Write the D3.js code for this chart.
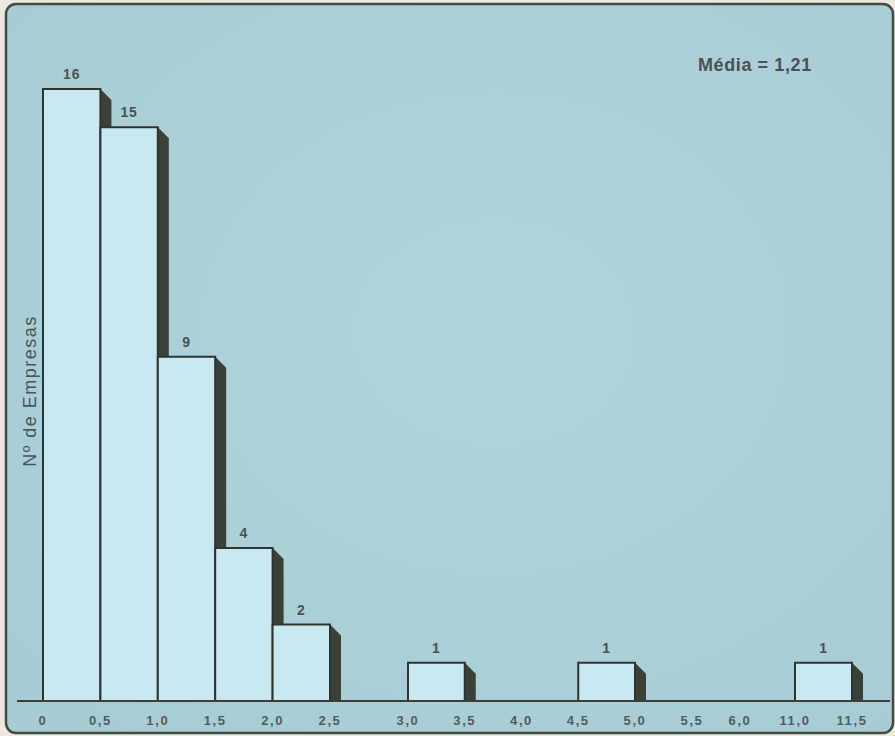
<!DOCTYPE html>
<html>
<head>
<meta charset="utf-8">
<script src="https://cdn.jsdelivr.net/npm/d3@7/dist/d3.min.js"></script>
<style>
  html, body { margin: 0; padding: 0; background: #ebe8de; }
  svg { display: block; }
  text { font-family: "Liberation Sans", Arial, Helvetica, sans-serif; }
</style>
</head>
<body>
<svg id="chart" width="895" height="736"></svg>
<script>
// Distribution of companies by ratio class (class width 0,5)
const binStarts = [0, 0.5, 1.0, 1.5, 2.0, 3.0, 4.5, 11.0];
const counts    = [16, 15, 9, 4, 2, 1, 1, 1];
const binWidth  = 0.5;
const tickValues = [0, 0.5, 1.0, 1.5, 2.0, 2.5, 3.0, 3.5, 4.0, 4.5, 5.0, 5.5, 6.0, 11.0, 11.5];
const yLabel = "Nº de Empresas";
const meanLabel = "Média = 1,21";

const W = 895, H = 736;
const svg = d3.select("#chart");

// panel
const defs = svg.append("defs");
const grad = defs.append("radialGradient").attr("id", "bg")
  .attr("cx", "55%").attr("cy", "45%").attr("r", "70%");
grad.append("stop").attr("offset", "0%").attr("stop-color", "#b2d5dc");
grad.append("stop").attr("offset", "100%").attr("stop-color", "#a8ccd3");

svg.append("rect")
  .attr("x", 6).attr("y", 4).attr("width", 887).attr("height", 729)
  .attr("rx", 10).attr("ry", 10)
  .attr("fill", "url(#bg)")
  .attr("stroke", "#454a44").attr("stroke-width", 2.5);

// piecewise scale: the axis is broken between 6,0 and 11,0
const x = d3.scaleLinear()
  .domain([0, 2.5, 3.0, 5.0, 5.5, 6.0, 11.0, 11.5])
  .range([43, 330, 408, 635, 692, 740, 795, 852]);

const baseY = 701;
const y = d3.scaleLinear().domain([0, 16]).range([baseY, 89]);

const depth = 11;
const bars = binStarts.map((s, i) => ({ x0: s, x1: s + binWidth, n: counts[i] }));

const g = svg.append("g");

// extruded side of each bar
g.selectAll("path.side").data(bars).join("path")
  .attr("class", "side")
  .attr("d", d => {
    const xr = x(d.x1), yt = y(d.n);
    return `M${xr},${yt} L${xr + depth},${yt + depth} L${xr + depth},${baseY} L${xr},${baseY} Z`;
  })
  .attr("fill", "#3b4039");

// bar faces
g.selectAll("rect.bar").data(bars).join("rect")
  .attr("class", "bar")
  .attr("x", d => x(d.x0))
  .attr("y", d => y(d.n))
  .attr("width", d => x(d.x1) - x(d.x0))
  .attr("height", d => baseY - y(d.n))
  .attr("fill", "#c9e8ef")
  .attr("stroke", "#2f3430").attr("stroke-width", 2);

// value labels
g.selectAll("text.val").data(bars).join("text")
  .attr("class", "val")
  .attr("x", d => (x(d.x0) + x(d.x1)) / 2)
  .attr("y", d => y(d.n) - 10)
  .attr("text-anchor", "middle")
  .attr("font-size", 14).attr("font-weight", "bold")
  .attr("letter-spacing", 0.8)
  .attr("fill", "#4a5252")
  .text(d => d.n);

// baseline
svg.append("line")
  .attr("x1", 17).attr("x2", 890)
  .attr("y1", baseY).attr("y2", baseY)
  .attr("stroke", "#3a3f3a").attr("stroke-width", 2);

// tick labels
const fmt = v => v === 0 ? "0" : v.toFixed(1).replace(".", ",");
svg.append("g").selectAll("text").data(tickValues).join("text")
  .attr("x", d => x(d))
  .attr("y", 725)
  .attr("text-anchor", "middle")
  .attr("font-size", 13).attr("font-weight", "bold")
  .attr("letter-spacing", 1.6)
  .attr("fill", "#535b5b")
  .text(fmt);

// y-axis title
svg.append("text")
  .attr("transform", "translate(36,391) rotate(-90)")
  .attr("text-anchor", "middle")
  .attr("font-size", 18)
  .attr("letter-spacing", 1.5)
  .attr("fill", "#4a5454")
  .text(yLabel);

// mean annotation
svg.append("text")
  .attr("x", 698).attr("y", 71)
  .attr("font-size", 18).attr("font-weight", "bold")
  .attr("letter-spacing", 0.6)
  .attr("fill", "#4a5252")
  .text(meanLabel);
</script>
</body>
</html>
